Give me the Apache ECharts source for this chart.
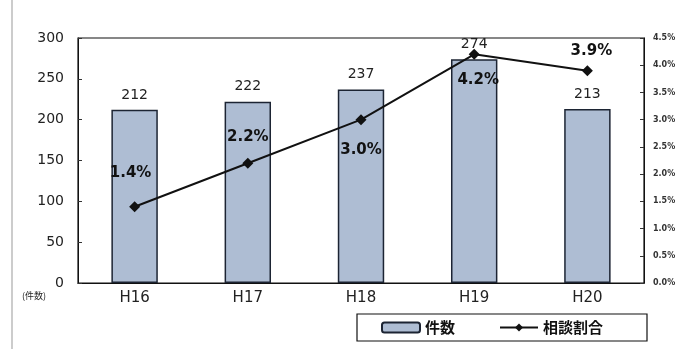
<!DOCTYPE html>
<html><head><meta charset="utf-8">
<script src="https://cdn.jsdelivr.net/npm/echarts@6/dist/echarts.min.js"></script>
<style>html,body{margin:0;padding:0;background:#fff}#c{width:688px;height:349px}</style>
</head><body><div id="c"></div>
<script>
const categories = ['H16', 'H17', 'H18', 'H19', 'H20'];
const counts = [212, 222, 237, 274, 213];
const ratios = [1.4, 2.2, 3.0, 4.2, 3.9];
const ratioLabels = ['1.4%', '2.2%', '3.0%', '4.2%', '3.9%'];
const leftTicks = [0, 50, 100, 150, 200, 250, 300];
const rightTicks = ['0.0%', '0.5%', '1.0%', '1.5%', '2.0%', '2.5%', '3.0%', '3.5%', '4.0%', '4.5%'];

const labelOffsets = [[-4, -34], [0, -26], [0, 30], [4, 26], [4, -20]];

const chart = echarts.init(document.getElementById('c'));
const num = '"DejaVu Sans", sans-serif';
chart.setOption({
  animation: false,
  backgroundColor: '#fff',
  grid: { left: 78, right: 44, top: 38, bottom: 66, show: true, borderColor: '#111', borderWidth: 1.2, backgroundColor: 'transparent' },
  graphic: [
    { type: 'line', shape: { x1: 12, y1: 0, x2: 12, y2: 349 }, style: { stroke: '#999', lineWidth: 1 } },
    { type: 'text', left: 22, top: 291, style: { text: '(件数)', font: '9px "Noto Sans CJK JP"', fill: '#222' } }
  ],
  legend: {
    left: 357, top: 314,
    padding: [6, 44, 6, 24],
    itemGap: 44,
    borderColor: '#111', borderWidth: 1.2,
    itemWidth: 38, itemHeight: 10,
    textStyle: { fontFamily: '"Noto Sans CJK JP"', fontSize: 15, color: '#111', fontWeight: 'bold' },
    data: ['件数', '相談割合']
  },
  xAxis: {
    type: 'category', data: categories,
    axisLine: { lineStyle: { color: '#111', width: 1.2 } },
    axisTick: { show: false },
    axisLabel: { fontFamily: num, fontSize: 15, color: '#222', margin: 8 }
  },
  yAxis: [
    {
      type: 'value', min: 0, max: 300, interval: 50,
      axisLine: { show: true, lineStyle: { color: '#111' } },
      axisTick: { show: true, length: 4, inside: true, lineStyle: { color: '#333' } },
      splitLine: { show: false },
      axisLabel: { fontFamily: num, fontSize: 14, color: '#222', margin: 14,
        formatter: v => leftTicks.includes(v) ? String(v) : '' }
    },
    {
      type: 'value', min: 0, max: 4.5, interval: 0.5,
      axisLine: { show: true, lineStyle: { color: '#111' } },
      axisTick: { show: true, length: 4, inside: true, lineStyle: { color: '#333' } },
      splitLine: { show: false },
      axisLabel: { fontFamily: num, fontSize: 8, fontWeight: 'bold', color: '#333', margin: 9,
        formatter: v => rightTicks[Math.round(v * 2)] }
    }
  ],
  series: [
    {
      name: '件数', type: 'bar', data: counts, barWidth: '41%', yAxisIndex: 0,
      itemStyle: { color: '#aebdd3', borderColor: '#1c2433', borderWidth: 1.5 },
      label: { show: true, position: 'top', distance: 8, fontFamily: num, fontSize: 14, color: '#222' },
      z: 2
    },
    {
      name: '相談割合', type: 'line', yAxisIndex: 1,
      data: ratios.map((v, i) => ({
        value: v,
        label: { offset: labelOffsets[i] }
      })),
      symbol: 'diamond', symbolSize: 11,
      lineStyle: { color: '#111', width: 2 },
      itemStyle: { color: '#111' },
      label: { show: true, position: 'inside', fontFamily: num, fontSize: 15, fontWeight: 'bold', color: '#111',
        formatter: p => ratioLabels[p.dataIndex] },
      z: 5
    }
  ]
});
</script></body></html>
